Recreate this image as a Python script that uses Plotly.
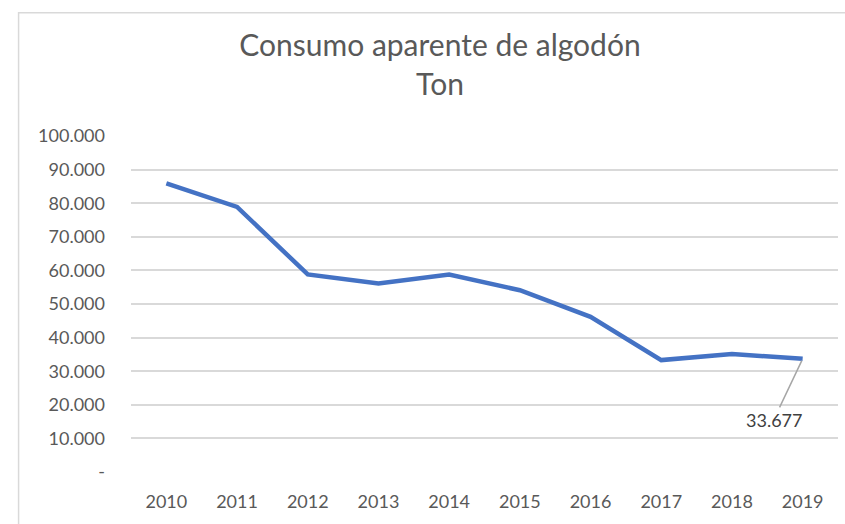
import plotly.graph_objects as go

years = ["2010", "2011", "2012", "2013", "2014", "2015", "2016", "2017", "2018", "2019"]
consumo = [85900, 78900, 58800, 56100, 58800, 54100, 46200, 33300, 35100, 33677]
ytick_vals = [0, 10000, 20000, 30000, 40000, 50000, 60000, 70000, 80000, 90000, 100000]
ytick_text = ["-", "10.000", "20.000", "30.000", "40.000", "50.000", "60.000",
              "70.000", "80.000", "90.000", "100.000"]
label_text = "33.677"

W, H = 845, 524
ML, MR, MT, MB = 130.5, 7, 135.5, 51.7
pw = W - ML - MR
ph = H - MT - MB

def px_to_paper_x(px):
    return (px - ML) / pw

def px_to_paper_y(py):
    return (H - MB - py) / ph

FONT = "Lato"
TICK_COLOR = "#595959"

fig = go.Figure()
fig.add_trace(go.Scatter(
    x=years, y=consumo, mode="lines",
    line=dict(color="#4472C4", width=4.5),
    hoverinfo="x+y", showlegend=False,
))

fig.update_layout(
    width=W, height=H,
    margin=dict(l=ML, r=MR, t=MT, b=MB, autoexpand=False),
    paper_bgcolor="white", plot_bgcolor="white",
    title=dict(
        text="Consumo aparente de algodón<br>Ton",
        x=440 / W, xanchor="center", xref="container",
        y=1 - 56 / H, yanchor="top", yref="container",
        font=dict(family=FONT, size=30, color="#595959"),
    ),
    font=dict(family=FONT, color=TICK_COLOR),
    xaxis=dict(
        type="category", range=[-0.5, 9.5],
        showgrid=False, zeroline=False, showline=False,
        ticks="", tickfont=dict(size=18, color=TICK_COLOR),
        ticklabelstandoff=17,
    ),
    yaxis=dict(
        range=[0, 100000], tickvals=ytick_vals, ticktext=ytick_text,
        showgrid=True, gridcolor="#D9D9D9", gridwidth=1.5,
        zeroline=False, showline=False, ticks="",
        tickfont=dict(size=18, color=TICK_COLOR),
        ticklabelstandoff=25,
    ),
    annotations=[dict(
        x=len(years) - 1, y=consumo[-1], xref="x", yref="y",
        text=label_text, showarrow=True, arrowhead=0,
        arrowcolor="#A6A6A6", arrowwidth=1.5,
        ax=-29, ay=61, axref="pixel", ayref="pixel", standoff=2,
        font=dict(family=FONT, size=18, color="#404040"),
    )],
    shapes=[dict(
        type="rect", xref="paper", yref="paper",
        x0=px_to_paper_x(18), x1=px_to_paper_x(W + 10),
        y0=px_to_paper_y(H + 10), y1=px_to_paper_y(12),
        line=dict(color="#D9D9D9", width=1.5), fillcolor="rgba(0,0,0,0)",
        layer="below",
    )],
)

fig.write_html("out.html", config={"displayModeBar": False},
               post_script="document.body.style.margin='0';")
